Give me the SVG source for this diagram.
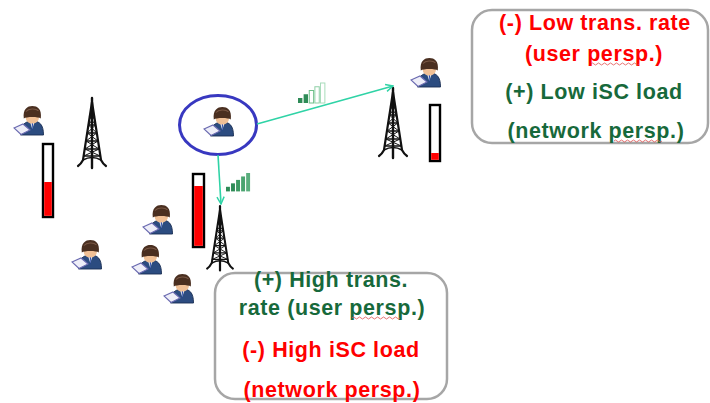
<svg xmlns="http://www.w3.org/2000/svg" xmlns:xlink="http://www.w3.org/1999/xlink" width="710" height="403" viewBox="0 0 710 403">
  <style>
    .lbl { font-family: "Liberation Sans", Arial, sans-serif; font-weight: bold; font-size: 21.5px; letter-spacing: 0.6px; text-anchor: middle; }
    .red { fill: #ff0000; }
    .grn { fill: #17693b; }
    .box { fill: #ffffff; stroke: #a6a6a6; stroke-width: 2.5; }
    .bar { fill: #ffffff; stroke: #000000; stroke-width: 2.4; }
    .lvl { fill: #ff0000; }
    .link { fill: none; stroke: #2fd3a6; stroke-width: 1.6; }
    .squig { fill: none; stroke: #e05050; stroke-width: 0.8; }
    .twr { fill: none; stroke: #111111; stroke-linecap: round; }
  </style>
  <defs>
    <!-- person at a laptop, 30 x 28 -->
    <symbol id="user" viewBox="0 0 30 28" overflow="visible">
      <path d="M7.5,28 C7.5,17.5 12.5,14 19.5,14 C26.5,14 30.5,17.5 30.5,28 Z" fill="#2c4c80" stroke="#1a2e52" stroke-width="0.9"/>
      <path d="M16.8,14.3 L19.3,22 L21.8,14.3 Z" fill="#f4f4f4"/>
      <path d="M18.7,15.5 L19.3,24 L20.1,15.5 Z" fill="#1b3fa8"/>
      <ellipse cx="19.3" cy="11" rx="6.6" ry="5.6" fill="#f0c096"/>
      <path d="M10.8,11.5 C9.6,2 14.5,-1 19.3,-1 C24.5,-1 29,2 27.8,11.5 C25.5,9.5 13.2,9.5 10.8,11.5 Z" fill="#4a2f20"/>
      <path d="M13,4.5 C15.5,1.5 22.5,1 25.5,3.8" fill="none" stroke="#7a5845" stroke-width="1.1"/>
      <path d="M1,21 L10,17 L17,23 L8,27.5 Z" fill="#eeeef8" stroke="#6a6ab0" stroke-width="1.1"/>
    </symbol>
    <!-- lattice radio tower, tip at origin, 70 high -->
    <g id="tower" class="twr">
      <line x1="0" y1="0" x2="0" y2="70" stroke-width="2.4"/>
      <path d="M0,4 L-9,62 Q-11,66 -14,68 M0,4 L9,62 Q11,66 14,68" stroke-width="2.2"/>
      <path d="M-9,62 Q0,57 9,62" stroke-width="1.6"/>
      <path d="M-2.3,19 H2.3 M-3.5,27 H3.5 M-4.8,35 H4.8 M-6,43 H6 M-7.2,51 H7.2 M-8.3,58 H8.3" stroke-width="1.3"/>
      <path d="M-2.3,19 L3.5,27 L-4.8,35 L6,43 L-7.2,51 L8.3,58 M2.3,19 L-3.5,27 L4.8,35 L-6,43 L7.2,51 L-8.3,58" stroke-width="1"/>
    </g>
    <!-- signal strength bars -->
    <g id="signal">
      <rect x="0" y="12" width="3.5" height="4" fill="#2e8b57"/>
      <rect x="4.5" y="9" width="3.5" height="7" fill="#2e8b57"/>
      <rect x="9" y="6" width="3.5" height="10" fill="#ffffff" stroke="#6fbf8a" stroke-width="0.8"/>
      <rect x="13.5" y="3" width="3.5" height="13" fill="#ffffff" stroke="#8fcfa6" stroke-width="0.8"/>
      <rect x="18" y="0" width="3.5" height="16" fill="#ffffff" stroke="#a8dcbb" stroke-width="0.8"/>
    </g>
    <g id="signalFull">
      <rect x="0" y="12" width="3.5" height="4" fill="#2e8b57"/>
      <rect x="4.5" y="9" width="3.5" height="7" fill="#2e8b57"/>
      <rect x="9" y="6" width="3.5" height="10" fill="#3d9a63"/>
      <rect x="13.5" y="3" width="3.5" height="13" fill="#4aa470"/>
      <rect x="18" y="0" width="3.5" height="16" fill="#5aae7d"/>
    </g>
    <marker id="arrow" viewBox="0 0 10 10" refX="9" refY="5" markerWidth="9" markerHeight="9" orient="auto" markerUnits="userSpaceOnUse">
      <path d="M1,1 L9,5 L1,9" fill="none" stroke="#2fd3a6" stroke-width="1.6"/>
    </marker>
  </defs>

  <rect width="710" height="403" fill="#ffffff"/>

  <!-- base stations -->
  <g id="tower-left"><use xlink:href="#tower" transform="translate(92,98)"/></g>
  <g id="tower-mid"><use xlink:href="#tower" transform="translate(220,206) scale(0.92)"/></g>
  <g id="tower-right"><use xlink:href="#tower" transform="translate(393,88)"/></g>

  <!-- load gauges -->
  <g id="load-left">
    <rect class="bar" x="43" y="144" width="10" height="73"/>
    <rect class="lvl" x="44.2" y="182" width="7.6" height="33.8"/>
  </g>
  <g id="load-mid">
    <rect class="bar" x="193" y="174" width="11" height="73"/>
    <rect class="lvl" x="194.2" y="186" width="8.6" height="59.8"/>
  </g>
  <g id="load-right">
    <rect class="bar" x="430" y="105" width="10" height="56"/>
    <rect class="lvl" x="431.2" y="153" width="7.6" height="6.8"/>
  </g>

  <!-- signal indicators -->
  <g id="signal-right"><use xlink:href="#signal" transform="translate(298,83) scale(1.25)"/></g>
  <g id="signal-mid"><use xlink:href="#signalFull" transform="translate(226,173) scale(1.12,1.15)"/></g>

  <!-- users -->
  <g id="user-left"><use xlink:href="#user" x="13" y="107" width="30" height="28"/></g>
  <g id="user-selected">
    <use xlink:href="#user" x="203" y="108" width="30" height="28"/>
    <ellipse cx="218" cy="125" rx="38.5" ry="29.5" fill="none" stroke="#3838c0" stroke-width="3"/>
  </g>
  <g id="user-top-right"><use xlink:href="#user" x="410" y="59" width="30" height="28"/></g>
  <g id="user-a"><use xlink:href="#user" x="142" y="206" width="30" height="28"/></g>
  <g id="user-b"><use xlink:href="#user" x="71" y="241" width="30" height="28"/></g>
  <g id="user-c"><use xlink:href="#user" x="131" y="246" width="30" height="28"/></g>
  <g id="user-d"><use xlink:href="#user" x="163" y="275" width="30" height="28"/></g>

  <!-- associations -->
  <g id="connectors">
    <line class="link" x1="257" y1="124" x2="393" y2="86" marker-end="url(#arrow)"/>
    <line class="link" x1="218" y1="155" x2="221" y2="204" marker-end="url(#arrow)"/>
  </g>

  <!-- trade-off callouts -->
  <g id="note-low">
    <rect class="box" x="472" y="10" width="236" height="133" rx="20"/>
    <text class="lbl red" x="595" y="30">(-) Low trans. rate</text>
    <text class="lbl red" x="594" y="61">(user persp.)</text>
    <text class="lbl grn" x="594" y="99">(+) Low iSC load</text>
    <text class="lbl grn" x="596" y="138">(network persp.)</text>
    <path class="squig" d="M591,64 q1.5,-2 3,0 t3,0 t3,0 t3,0 t3,0 t3,0 t3,0 t3,0 t3,0 t3,0 t3,0 t3,0 t3,0 t3,0 t3,0 t3,0"/>
    <path class="squig" d="M614,141 q1.5,-2 3,0 t3,0 t3,0 t3,0 t3,0 t3,0 t3,0 t3,0 t3,0 t3,0 t3,0 t3,0 t3,0 t3,0 t3,0 t3,0"/>
  </g>
  <g id="note-high">
    <rect class="box" x="215" y="273" width="232" height="126" rx="20"/>
    <text class="lbl grn" x="331" y="287">(+) High trans.</text>
    <text class="lbl grn" x="332" y="315">rate (user persp.)</text>
    <text class="lbl red" x="331" y="357">(-) High iSC load</text>
    <text class="lbl red" x="332" y="397">(network persp.)</text>
    <path class="squig" d="M352,318 q1.5,-2 3,0 t3,0 t3,0 t3,0 t3,0 t3,0 t3,0 t3,0 t3,0 t3,0 t3,0 t3,0 t3,0 t3,0 t3,0 t3,0"/>
  </g>
</svg>
